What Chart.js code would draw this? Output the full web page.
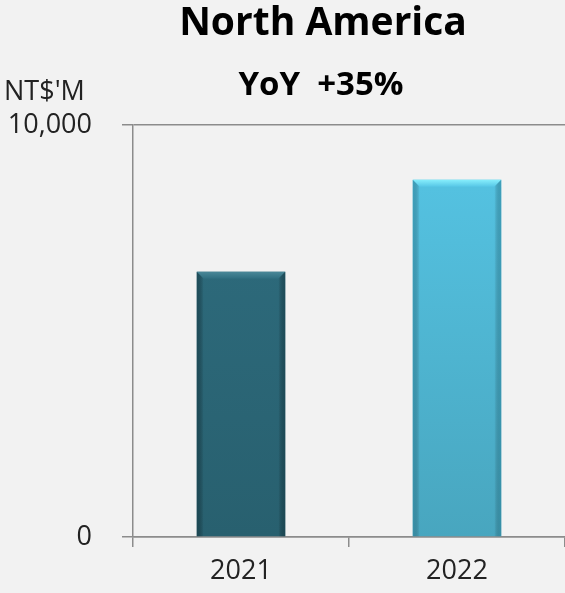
<!DOCTYPE html>
<html>
<head>
<meta charset="utf-8">
<script src="https://cdn.jsdelivr.net/npm/chart.js@4.4.0/dist/chart.umd.min.js"></script>
<style>
  html, body { margin: 0; padding: 0; background: #f2f2f2; }
  canvas { display: block; }
</style>
</head>
<body>
<canvas id="grafico" width="565" height="593"></canvas>
<script>
const anos = ['2021', '2022'];
const valores = [6440, 8670];
const ticksEixoY = [0, 10000];
const titulo = 'North America';
const subtitulo = 'YoY  +35%';
const unidade = "NT$'M";

const coresBarras = [
    { topo: '#2f6e80', base: '#28606f', borda: 'rgba(20,55,65,0.55)', brilho: '#4a8898' },
    { topo: '#56c6e6', base: '#48a6bf', borda: 'rgba(40,130,155,0.5)', brilho: '#86eefc' }
];

const fonte = "'Open Sans', 'DejaVu Sans', sans-serif";

// titulo, subtitulo e unidade desenhados a mao
const pluginTextos = {
    id: 'textos',
    afterDraw(chart) {
        const ctx = chart.ctx;
        ctx.save();
        ctx.fillStyle = '#000';
        ctx.textAlign = 'center';
        ctx.textBaseline = 'alphabetic';
        ctx.font = `bold 39px ${fonte}`;
        ctx.fillText(titulo, 323, 35);
        ctx.font = `bold 33px ${fonte}`;
        ctx.fillText(subtitulo, 321, 95);
        ctx.fillStyle = '#222';
        ctx.textAlign = 'left';
        ctx.font = `27px ${fonte}`;
        ctx.fillText(unidade, 4, 100);
        ctx.restore();
    }
};

// efeito de bisel nas barras
const pluginBisel = {
    id: 'bisel',
    afterDatasetsDraw(chart) {
        const ctx = chart.ctx;
        const meta = chart.getDatasetMeta(0);
        meta.data.forEach((barra, i) => {
            const c = coresBarras[i];
            const esq = barra.x - barra.width / 2;
            const dir = barra.x + barra.width / 2;
            const topo = barra.y;
            const base = barra.base;
            const b = 7;
            ctx.save();
            // topo claro
            const gt = ctx.createLinearGradient(0, topo, 0, topo + b);
            gt.addColorStop(0, c.brilho);
            gt.addColorStop(1, c.topo);
            ctx.fillStyle = gt;
            ctx.beginPath();
            ctx.moveTo(esq, topo);
            ctx.lineTo(dir, topo);
            ctx.lineTo(dir - b, topo + b);
            ctx.lineTo(esq + b, topo + b);
            ctx.closePath();
            ctx.fill();
            // laterais
            let g = ctx.createLinearGradient(esq, 0, esq + b, 0);
            g.addColorStop(0, c.borda);
            g.addColorStop(1, 'rgba(0,0,0,0)');
            ctx.fillStyle = g;
            ctx.beginPath();
            ctx.moveTo(esq, topo);
            ctx.lineTo(esq + b, topo + b);
            ctx.lineTo(esq + b, base);
            ctx.lineTo(esq, base);
            ctx.closePath();
            ctx.fill();
            g = ctx.createLinearGradient(dir, 0, dir - b, 0);
            g.addColorStop(0, c.borda);
            g.addColorStop(1, 'rgba(0,0,0,0)');
            ctx.fillStyle = g;
            ctx.beginPath();
            ctx.moveTo(dir, topo);
            ctx.lineTo(dir - b, topo + b);
            ctx.lineTo(dir - b, base);
            ctx.lineTo(dir, base);
            ctx.closePath();
            ctx.fill();
            ctx.restore();
        });
    }
};

const ctx = document.getElementById('grafico').getContext('2d');

const grafico = new Chart(ctx, {
    type: 'bar',
    data: {
        labels: anos,
        datasets: [{
            data: valores,
            backgroundColor: (context) => {
                const area = context.chart.chartArea;
                const c = coresBarras[context.dataIndex];
                if (!area) return c.topo;
                const g = context.chart.ctx.createLinearGradient(0, area.top, 0, area.bottom);
                g.addColorStop(0, c.topo);
                g.addColorStop(1, c.base);
                return g;
            },
            borderWidth: 0,
            barPercentage: 0.41,
            categoryPercentage: 1
        }]
    },
    options: {
        responsive: false,
        animation: false,
        devicePixelRatio: 1,
        layout: {
            padding: { top: 125, right: 0, left: 0, bottom: 0 }
        },
        plugins: {
            legend: { display: false },
            tooltip: { enabled: false }
        },
        scales: {
            x: {
                grid: {
                    drawOnChartArea: false,
                    drawTicks: true,
                    tickLength: 10,
                    color: '#8c8c8c',
                    lineWidth: 1.5
                },
                border: { display: true, color: '#8c8c8c', width: 1.5 },
                ticks: {
                    color: '#222',
                    font: { family: fonte, size: 27 },
                    padding: 8
                },
                afterFit(escala) { escala.height = 56; }
            },
            y: {
                min: 0,
                max: 10000,
                afterBuildTicks(escala) {
                    escala.ticks = ticksEixoY.map(v => ({ value: v }));
                },
                grid: {
                    drawOnChartArea: true,
                    drawTicks: true,
                    tickLength: 11,
                    color: '#8c8c8c',
                    lineWidth: 1.5
                },
                border: { display: true, color: '#8c8c8c', width: 1.5 },
                ticks: {
                    color: '#222',
                    font: { family: fonte, size: 27 },
                    padding: 30,
                    callback: (v) => v.toLocaleString('en-US')
                },
                afterFit(escala) { escala.width = 133; }
            }
        }
    },
    plugins: [pluginBisel, pluginTextos]
});
</script>
</body>
</html>
